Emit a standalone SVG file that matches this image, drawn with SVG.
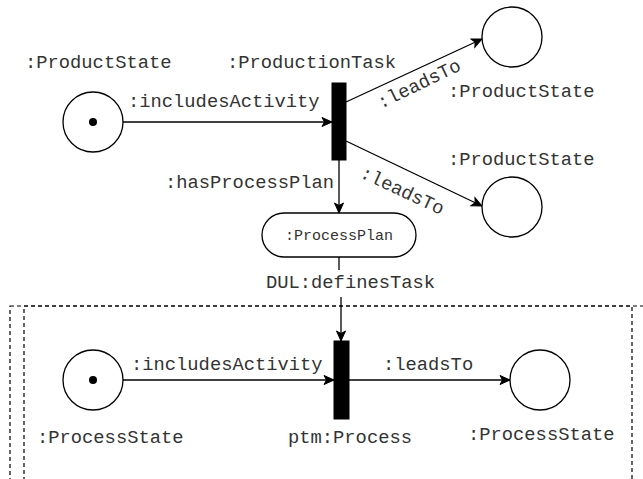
<svg xmlns="http://www.w3.org/2000/svg" width="643" height="479" viewBox="0 0 643 479">
<style>
.t{font-family:"Liberation Mono","Courier New",monospace;font-size:18.8px;fill:#333}
.s{font-family:"Liberation Mono","Courier New",monospace;font-size:15px;fill:#333}
.c{fill:#fff;stroke:#000;stroke-width:1.3}
.e{fill:none;stroke:#000;stroke-width:1.3}
.a{fill:none;stroke:#000;stroke-width:1.3;marker-end:url(#ar)}
.bar{fill:#000;stroke:#000}
.d{fill:none;stroke:#000;stroke-width:1.2;stroke-dasharray:4 3}
</style>
<defs>
<marker id="ar" markerUnits="userSpaceOnUse" markerWidth="12" markerHeight="12" viewBox="0 0 12 12" refX="11" refY="6" orient="auto">
<path d="M1,1.5 L11,6 L1,10.5 L3.5,6 Z" fill="#000" stroke="#000" stroke-width="1"/>
</marker>
</defs>
<g id="frame">
<rect class="d" x="10" y="306" width="640" height="190"/>
<rect class="d" x="24" y="306" width="608" height="190"/>
</g>
<g id="connectors">
<line class="a" x1="123" y1="122" x2="332" y2="122"/>
<line class="a" x1="346" y1="102" x2="482" y2="39"/>
<line class="a" x1="346" y1="141" x2="482" y2="206"/>
<line class="a" x1="339" y1="160" x2="339" y2="213"/>
<line class="e" x1="339" y1="257" x2="339" y2="270"/>
<line class="a" x1="341" y1="297" x2="341" y2="341"/>
<line class="a" x1="122" y1="380" x2="334" y2="380"/>
<line class="a" x1="349" y1="380" x2="510" y2="380"/>
<text class="t" x="128" y="107">:includesActivity</text>
<text class="t" transform="translate(381,109) rotate(-26)">:leadsTo</text>
<text class="t" transform="translate(359,177) rotate(25)">:leadsTo</text>
<text class="t" x="165" y="188">:hasProcessPlan</text>
<text class="t" x="266" y="288">DUL:definesTask</text>
<text class="t" x="131" y="370">:includesActivity</text>
<text class="t" x="383" y="370">:leadsTo</text>
</g>
<g id="ps1">
<circle class="c" cx="93" cy="122" r="30"/>
<circle cx="93" cy="122" r="4" fill="#000"/>
<text class="t" x="25" y="68">:ProductState</text>
</g>
<g id="task">
<rect class="bar" x="332" y="83" width="14" height="77"/>
<text class="t" x="227" y="68">:ProductionTask</text>
</g>
<g id="ps2">
<circle class="c" cx="512" cy="37" r="30"/>
<text class="t" x="448" y="97">:ProductState</text>
</g>
<g id="ps3">
<circle class="c" cx="512" cy="207" r="30"/>
<text class="t" x="448" y="165">:ProductState</text>
</g>
<g id="plan">
<rect class="c" x="262" y="213" width="154" height="44" rx="22" ry="22"/>
<text class="s" x="339" y="240" text-anchor="middle">:ProcessPlan</text>
</g>
<g id="pst1">
<circle class="c" cx="93" cy="380" r="30"/>
<circle cx="93" cy="380" r="4" fill="#000"/>
<text class="t" x="37" y="443">:ProcessState</text>
</g>
<g id="process">
<rect class="bar" x="334" y="341" width="15" height="78"/>
<text class="t" x="288" y="443">ptm:Process</text>
</g>
<g id="pst2">
<circle class="c" cx="540" cy="380" r="30"/>
<text class="t" x="468" y="440">:ProcessState</text>
</g>
</svg>
